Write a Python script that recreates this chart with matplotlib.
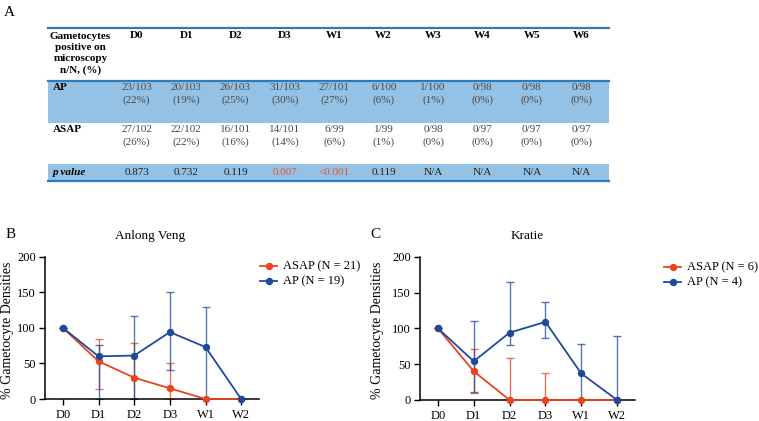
import matplotlib
matplotlib.use("Agg")
import matplotlib.pyplot as plt
from matplotlib.transforms import Affine2D
from matplotlib.patches import Rectangle
from matplotlib.lines import Line2D
import numpy as np

# ---------------- data ----------------
table_cols = ["D0", "D1", "D2", "D3", "W1", "W2", "W3", "W4", "W5", "W6"]
ap_counts = ["23/103", "20/103", "26/103", "31/103", "27/101", "6/100", "1/100", "0/98", "0/98", "0/98"]
ap_pct = ["(22%)", "(19%)", "(25%)", "(30%)", "(27%)", "(6%)", "(1%)", "(0%)", "(0%)", "(0%)"]
asap_counts = ["27/102", "22/102", "16/101", "14/101", "6/99", "1/99", "0/98", "0/97", "0/97", "0/97"]
asap_pct = ["(26%)", "(22%)", "(16%)", "(14%)", "(6%)", "(1%)", "(0%)", "(0%)", "(0%)", "(0%)"]
p_values = ["0.873", "0.732", "0.119", "0.007", "<0.001", "0.119", "N/A", "N/A", "N/A", "N/A"]
p_significant = [False, False, False, True, True, False, False, False, False, False]

timepoints = ["D0", "D1", "D2", "D3", "W1", "W2"]

# Anlong Veng
av_asap = [100, 53, 30, 15, 0, 0]
av_asap_lo = [100, 14, 0, 0, 0, 0]
av_asap_hi = [100, 84, 79, 51, 0, 0]
av_ap = [100, 60, 61, 94, 73, 0]
av_ap_lo = [100, 0, 0, 41, 0, 0]
av_ap_hi = [100, 76, 117, 150, 130, 0]

# Kratie
kr_asap = [100, 40, 0, 0, 0, 0]
kr_asap_lo = [100, 10, 0, 0, 0, 0]
kr_asap_hi = [100, 71, 58, 37, 0, 0]
kr_ap = [100, 54, 94, 109, 37, 0]
kr_ap_lo = [100, 11, 77, 87, 0, 0]
kr_ap_hi = [100, 110, 165, 137, 78, 90]

# ---------------- style ----------------
W, H = 759, 421
SERIF = ["Liberation Serif", "DejaVu Serif"]
plt.rcParams["font.family"] = SERIF
RED = "#e8441f"
BLUE = "#1f4a9c"
TBL_LINE = "#2b7bbf"
TBL_FILL = "#95c2e4"
TXT_GRAY = "#4a4a4a"

fig = plt.figure(figsize=(W / 100, H / 100), dpi=100)
fig.patch.set_facecolor("white")
px = Affine2D().scale(1 / W, -1 / H).translate(0, 1) + fig.transFigure


def ftext(x, y, s, **kw):
    kw.setdefault("transform", px)
    return fig.text(x, y, s, **kw)


# ---------------- table (panel A) ----------------
ftext(4, 12, "A", fontsize=11, va="center", ha="left")

tx0, tx1 = 48, 609
fig.add_artist(Rectangle((tx0, 81), tx1 - tx0, 42, transform=px, facecolor=TBL_FILL, edgecolor="none"))
fig.add_artist(Rectangle((tx0, 164), tx1 - tx0, 17, transform=px, facecolor=TBL_FILL, edgecolor="none"))
for yy in (28, 81, 181):
    fig.add_artist(Line2D([tx0, tx1], [yy, yy], transform=px, color=TBL_LINE, lw=1.6))

fs_t = 8
ftext(80.5, 53.5, "Gametocytes\npositive on\nmicroscopy\nn/N, (%)", fontsize=fs_t, ha="center",
      va="center", linespacing=1.3, fontweight="bold")
ftext(53, 88, "AP", fontsize=fs_t, fontweight="bold", ha="left", va="center")
ftext(53, 129, "ASAP", fontsize=fs_t, fontweight="bold", ha="left", va="center")
ftext(53, 172.5, "p value", fontsize=fs_t, fontweight="bold", style="italic", ha="left", va="center")

col_x0, col_dx = 136.7, 49.4
for i, c in enumerate(table_cols):
    cx = col_x0 + i * col_dx
    ftext(cx, 35, c, fontsize=fs_t, fontweight="bold", ha="center", va="center")
    ftext(cx, 88, ap_counts[i], fontsize=fs_t, color=TXT_GRAY, ha="center", va="center")
    ftext(cx, 100.5, ap_pct[i], fontsize=fs_t, color=TXT_GRAY, ha="center", va="center")
    ftext(cx, 129.5, asap_counts[i], fontsize=fs_t, color=TXT_GRAY, ha="center", va="center")
    ftext(cx, 142, asap_pct[i], fontsize=fs_t, color=TXT_GRAY, ha="center", va="center")
    ftext(cx, 172.5, p_values[i], fontsize=fs_t,
          color=("#e8542f" if p_significant[i] else "#222222"), ha="center", va="center")


# ---------------- line charts (panels B, C) ----------------
def add_axes_px(left, right, top, bottom):
    return fig.add_axes([left / W, 1 - bottom / H, (right - left) / W, (bottom - top) / H])


def draw_panel(ax, asap, asap_lo, asap_hi, ap, ap_lo, ap_hi):
    x = np.arange(len(timepoints))
    for vals, lo, hi, col in ((asap, asap_lo, asap_hi, RED), (ap, ap_lo, ap_hi, BLUE)):
        vals = np.array(vals, float)
        yerr = np.vstack([vals - np.array(lo, float), np.array(hi, float) - vals])
        ax.errorbar(x, vals, yerr=yerr, fmt="none", ecolor=col, alpha=0.75,
                    elinewidth=1.0, capsize=3, capthick=1.0, zorder=2)
        ax.plot(x, vals, color=col, lw=1.3, marker="o", markersize=4.3, zorder=3, clip_on=False)
    ax.set_xlim(-0.5, 5.5)
    ax.set_ylim(0, 200)
    ax.set_yticks([0, 50, 100, 150, 200])
    ax.set_xticks(x)
    ax.set_xticklabels(timepoints)
    for s in ("top", "right"):
        ax.spines[s].set_visible(False)
    for s in ("left", "bottom"):
        ax.spines[s].set_linewidth(1.1)
        ax.spines[s].set_color("black")
    ax.tick_params(axis="both", direction="out", length=4, width=1.0)
    ax.tick_params(axis="x", labelsize=9, pad=3)
    ax.tick_params(axis="y", labelsize=9, pad=2.5)
    ax.set_facecolor("none")


axB = add_axes_px(45, 259, 256.7, 399)
draw_panel(axB, av_asap, av_asap_lo, av_asap_hi, av_ap, av_ap_lo, av_ap_hi)
ftext(7.5, 330, "% Gametocyte Densities", fontsize=10, rotation=90, ha="center", va="center")
ftext(150, 236, "Anlong Veng", fontsize=9.5, ha="center", va="center")
ftext(6, 234, "B", fontsize=11, ha="left", va="center")

axC = add_axes_px(420, 635, 256.7, 400)
draw_panel(axC, kr_asap, kr_asap_lo, kr_asap_hi, kr_ap, kr_ap_lo, kr_ap_hi)
ftext(377, 330, "% Gametocyte Densities", fontsize=10, rotation=90, ha="center", va="center")
ftext(527, 236, "Kratie", fontsize=9.5, ha="center", va="center")
ftext(370, 234, "C", fontsize=11, ha="left", va="center")


def legend_px(x, y, labels):
    for j, (lab, col) in enumerate(labels):
        yy = y + j * 15
        fig.add_artist(Line2D([x, x + 17], [yy, yy], transform=px, color=col, lw=1.3))
        fig.add_artist(Line2D([x + 8.5], [yy], transform=px, color=col, marker="o", markersize=4.3, lw=0))
        ftext(x + 23, yy, lab, fontsize=9, ha="left", va="center")


legend_px(260, 266, [("ASAP (N = 21)", RED), ("AP (N = 19)", BLUE)])
legend_px(664, 267, [("ASAP (N = 6)", RED), ("AP (N = 4)", BLUE)])

fig.savefig("out.png", dpi=100)
